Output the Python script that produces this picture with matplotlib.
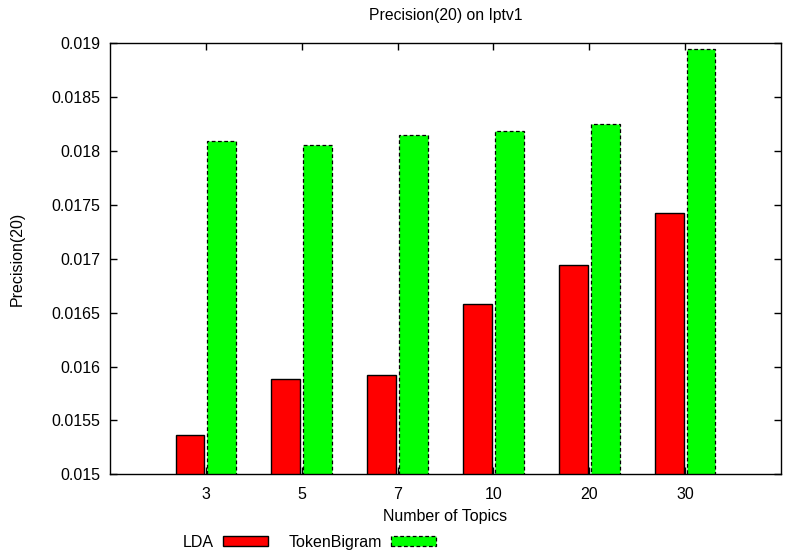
import numpy as np
import matplotlib
matplotlib.use("Agg")
from matplotlib import pyplot as plt

plt.rcParams['font.family'] = ['Liberation Sans', 'DejaVu Sans']

topics = ['3', '5', '7', '10', '20', '30']
lda = [0.015365, 0.015885, 0.015919, 0.016583, 0.016943, 0.017422]
token_bigram = [0.01809, 0.018053, 0.018152, 0.018186, 0.01825, 0.018947]

x = np.arange(len(topics))
w = 0.3

fig = plt.figure(figsize=(7.85, 5.55), dpi=100)
ax = fig.add_axes([0.140, 0.1454, 0.855, 0.7766])

ax.bar(x - 0.165, lda, w, color='#ff0000', edgecolor='black',
       linewidth=1.0, label='LDA')
ax.bar(x + 0.165, token_bigram, w, color='#00ff00', edgecolor='black',
       linewidth=0.9, linestyle=(0, (3, 2)), label='TokenBigram')

ax.set_xlim(-1, len(topics))
ax.set_ylim(0.015, 0.019)
ax.set_yticks(np.arange(0.015, 0.01901, 0.0005))
ax.set_yticklabels(['0.015', '0.0155', '0.016', '0.0165', '0.017',
                    '0.0175', '0.018', '0.0185', '0.019'])
ax.set_xticks(x)
ax.set_xticklabels(topics)
ax.tick_params(direction='in', length=5, width=1, top=True, right=True,
               labelsize=11.5, pad=7)
ax.tick_params(axis='x', pad=9)
for s in ax.spines.values():
    s.set_linewidth(1.0)

ax.set_title('Precision(20) on Iptv1', fontsize=11.3, pad=17)
ax.set_xlabel('Number of Topics', fontsize=11.5, labelpad=5)
ax.set_ylabel('Precision(20)', fontsize=11.5, labelpad=19)

ax.legend(loc='center left', bbox_to_anchor=(0.233, 0.0234),
          bbox_transform=fig.transFigure, ncol=2, markerfirst=False,
          frameon=False, fontsize=11.5, handlelength=2.8, handleheight=0.55,
          handletextpad=0.6, columnspacing=1.25, borderpad=0, borderaxespad=0)

fig.savefig('out.png', dpi=100)
